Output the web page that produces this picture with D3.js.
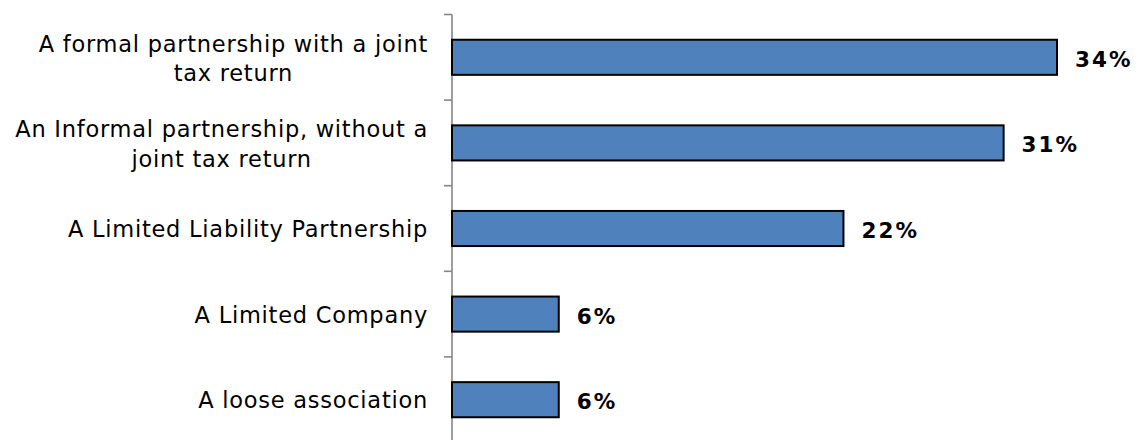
<!DOCTYPE html>
<html>
<head>
<meta charset="utf-8">
<script src="https://cdn.jsdelivr.net/npm/d3@7"></script>
<style>
  html, body { margin: 0; padding: 0; background: #fff; }
  svg { display: block; }
</style>
</head>
<body>
<div id="chart"></div>
<script>
// categories (top to bottom), each as lines of the wrapped label
const categories = [
  ['A formal partnership with a joint', 'tax return'],
  ['An Informal partnership, without a', 'joint tax return'],
  ['A Limited Liability Partnership'],
  ['A Limited Company'],
  ['A loose association']
];
const values = [0.34, 0.31, 0.22, 0.06, 0.06];
const valueLabels = ['34%', '31%', '22%', '6%', '6%'];

const W = 1138, H = 440;
const FONT = '"DejaVu Sans", Verdana, sans-serif';

const svg = d3.select('#chart').append('svg')
  .attr('width', W)
  .attr('height', H);

const rows = categories.map((lines, i) => ({ lines, value: values[i], label: valueLabels[i], i }));

const x = d3.scaleLinear()
  .domain([0, 0.34])
  .range([452, 1057]);

const y = d3.scaleBand()
  .domain(rows.map(d => d.i))
  .range([14.5, 442.5])
  .paddingInner(0.59)
  .paddingOuter(0.295);

const step = y.step();
const y0 = y.range()[0];

// axis line + ticks at category boundaries
svg.append('line')
  .attr('x1', x(0)).attr('x2', x(0))
  .attr('y1', y0).attr('y2', y.range()[1])
  .attr('stroke', '#868686')
  .attr('stroke-width', 1.6);

svg.selectAll('.tick').data(d3.range(rows.length + 1))
  .join('line')
  .attr('class', 'tick')
  .attr('x1', x(0) - 8).attr('x2', x(0))
  .attr('y1', i => y0 + i * step)
  .attr('y2', i => y0 + i * step)
  .attr('stroke', '#868686')
  .attr('stroke-width', 1.6);

// bars
svg.selectAll('.bar').data(rows)
  .join('rect')
  .attr('class', 'bar')
  .attr('x', x(0))
  .attr('y', d => y(d.i))
  .attr('width', d => x(d.value) - x(0))
  .attr('height', y.bandwidth())
  .attr('fill', '#4F81BD')
  .attr('stroke', '#000')
  .attr('stroke-width', 2);

// value labels
svg.selectAll('.val').data(rows)
  .join('text')
  .attr('class', 'val')
  .attr('x', d => x(d.value) + 18)
  .attr('y', d => y(d.i) + y.bandwidth() / 2 + 9.5)
  .attr('font-family', FONT)
  .attr('font-size', '21.5px')
  .attr('font-weight', 'bold')
  .attr('letter-spacing', '2px')
  .attr('fill', '#000')
  .text(d => d.label);

// category labels, wrapped lines centred on each other, block right-aligned
const labelRight = 428;
const lineH = 29.3;
const catG = svg.selectAll('.cat').data(rows)
  .join('g')
  .attr('class', 'cat');

catG.each(function(d) {
  const g = d3.select(this);
  const cy = y(d.i) + y.bandwidth() / 2;
  const texts = g.selectAll('text').data(d.lines)
    .join('text')
    .attr('font-family', FONT)
    .attr('font-size', '22.5px')
    .attr('letter-spacing', '0.75px')
    .attr('fill', '#000')
    .text(t => t);
  const maxW = d3.max(texts.nodes(), n => n.getComputedTextLength());
  const first = d.lines.length > 1 ? cy - 5.5 : cy + 8.5;
  texts
    .attr('text-anchor', 'middle')
    .attr('x', labelRight - maxW / 2)
    .attr('y', (t, k) => first + k * lineH);
});
</script>
</body>
</html>
